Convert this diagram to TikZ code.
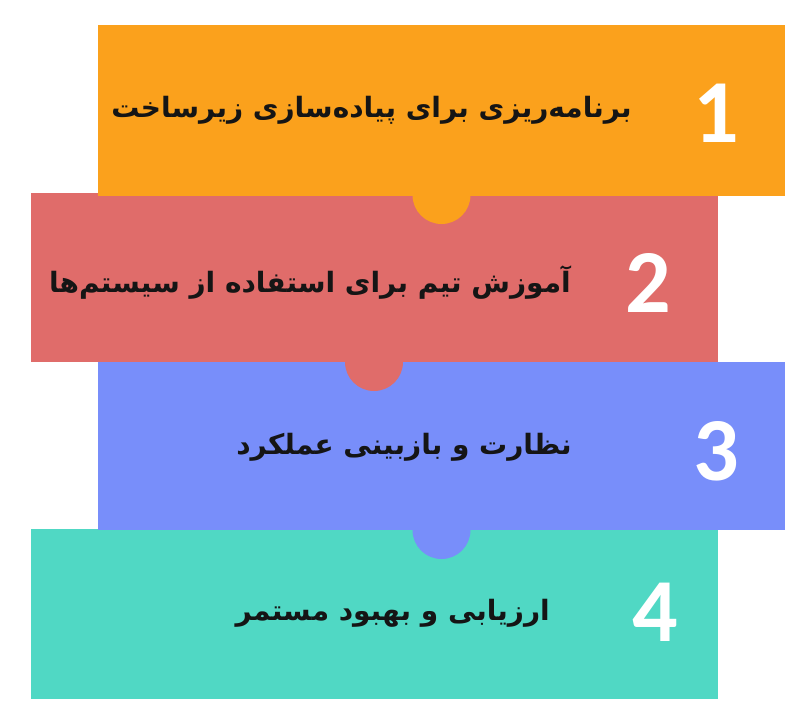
\documentclass[tikz,border=0pt]{standalone}
\usepackage{fontspec}
\newfontfamily\fafont[Script=Arabic]{DejaVu Sans}
\newfontfamily\numfont{Carlito}
\TeXXeTstate=1
\definecolor{cOrange}{HTML}{FBA11C}
\definecolor{cRed}{HTML}{E06C6A}
\definecolor{cBlue}{HTML}{788EFA}
\definecolor{cTeal}{HTML}{50D8C4}
\definecolor{cText}{HTML}{151515}
\begin{document}
\begin{tikzpicture}[x=1pt,y=-1pt,
  block/.style={fill=#1,draw=none,rectangle,anchor=north west,inner sep=0pt,minimum width=687pt},
  tab/.style={fill=#1,draw=none,circle,inner sep=0pt,minimum size=58pt},
  label/.style={anchor=east,inner sep=0pt,text=cText,font=\fafont\bfseries\fontsize{28}{32}\selectfont},
  num/.style={inner sep=0pt,text=white,font=\numfont\bfseries\fontsize{90}{100}\selectfont}]
\useasboundingbox (0,0) rectangle (807,728);
\fill[white] (0,0) rectangle (807,728);
% blocks, bottom to top so upper blocks lie over lower ones
\node[block=cTeal,minimum height=170pt] (b4) at (31,529) {};
\node[block=cBlue,minimum height=168pt] (b3) at (98,362) {};
\node[block=cRed,minimum height=169pt] (b2) at (31,193) {};
\node[block=cOrange,minimum height=171pt] (b1) at (98,25) {};
% tabs
\node[tab=cOrange] (k1) at (441.5,195) {};
\node[tab=cRed] (k2) at (374,362) {};
\node[tab=cBlue] (k3) at (441.5,530) {};
% texts
\node[label] (t1) at (632,110) {\beginR برنامه‌ریزی برای پیاده‌سازی زیرساخت\endR};
\node[label] (t2) at (571,283) {\beginR آموزش تیم برای استفاده از سیستم‌ها\endR};
\node[label] (t3) at (572,447) {\beginR نظارت و بازبینی عملکرد\endR};
\node[label] (t4) at (550,613) {\beginR ارزیابی و بهبود مستمر\endR};
% numbers
\node[num] (n1) at (716,113) {1};
\node[num] (n2) at (648,283) {2};
\node[num] (n3) at (716,451) {3};
\node[num] (n4) at (655,612) {4};
\end{tikzpicture}
\end{document}
